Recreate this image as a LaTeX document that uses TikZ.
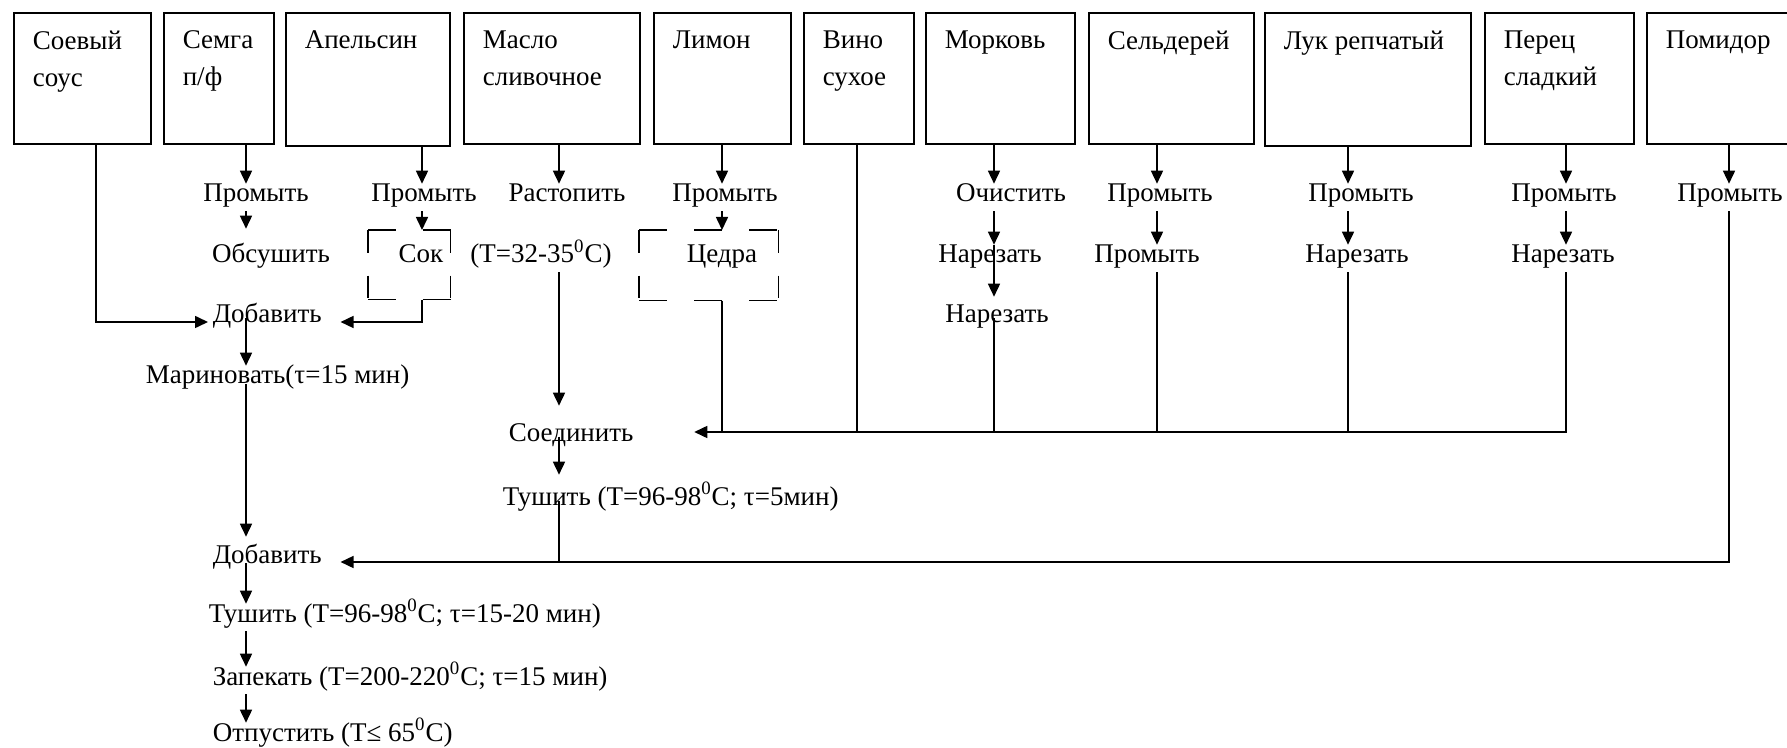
\documentclass[tikz,border=0pt]{standalone}
\usepackage{fontspec}
\setmainfont{Liberation Serif}
\usetikzlibrary{arrows.meta}

\begin{document}
\begin{tikzpicture}[x=0.5pt,y=-0.5pt,line width=0.8pt,
  every node/.style={inner sep=0pt,font=\fontsize{13.5}{18.5}\selectfont},
  ingr/.style={draw,line width=1pt,anchor=north west},
  ingrtxt/.style={anchor=north west,align=left},
  stp/.style={anchor=base,text height=8.75pt,text depth=4.25pt},
  arr/.style={-{Triangle[length=6.5pt,width=6pt]}},
  cutbox/.style={anchor=north west},
  cuth/.style={dash pattern=on 13.8pt off 13.8pt},
  cutv/.style={dash pattern=on 11.4pt off 11.4pt}]
  \fill[white] (0,0) rectangle (1787,748);
  \useasboundingbox (0,0) rectangle (1787,748);

  % columns and collecting lines
  \coordinate (kSoy) at (96,0);
  \coordinate (kSem) at (246,0);
  \coordinate (kApl) at (422,0);
  \coordinate (kMas) at (559,0);
  \coordinate (kLim) at (722,0);
  \coordinate (kVin) at (857,0);
  \coordinate (kMor) at (994,0);
  \coordinate (kSel) at (1157,0);
  \coordinate (kLuk) at (1348,0);
  \coordinate (kPer) at (1566,0);
  \coordinate (kPom) at (1729,0);
  \coordinate (rowA) at (0,322);
  \coordinate (rowB) at (0,432);
  \coordinate (rowC) at (0,562);

  % ingredients
  \foreach \nm/\l/\r/\b/\txt in {
      soevy/13/150/143/{Соевый\\соус},
      semga/163/273/143/{Семга\\п/ф},
      apelsin/285/449/145/{Апельсин},
      maslo/463/639/143/{Масло\\сливочное},
      limon/653/790/143/{Лимон},
      vino/803/913/143/{Вино\\сухое},
      morkov/925/1074/143/{Морковь},
      seldr/1088/1253/143/{Сельдерей},
      luk/1264/1470/145/{Лук репчатый},
      perec/1484/1633/143/{Перец\\сладкий},
      pomidor/1646/1792/143/{Помидор}}{
    \node[ingr,minimum width={(\r-\l)*0.5pt},minimum height={(\b-12)*0.5pt}] (\nm) at (\l,12) {};
    \node[ingrtxt] (\nm-t) at ([xshift=9.5pt,yshift=-9pt]\nm.north west) {\txt};
  }

  % first row
  \node[stp] (pSem) at (256,202) {Промыть};
  \node[stp] (pApl) at (424,202) {Промыть};
  \node[stp] (rast) at (567,202) {Растопить};
  \node[stp] (pLim) at (725,202) {Промыть};
  \node[stp] (ochMor) at (1011,202) {Очистить};
  \node[stp] (pSel) at (1160,202) {Промыть};
  \node[stp] (pLuk) at (1361,202) {Промыть};
  \node[stp] (pPer) at (1564,202) {Промыть};
  \node[stp] (pPom) at (1730,202) {Промыть};

  % second row
  \node[stp] (obsSem) at (271,263) {Обсушить};
  \node[stp] (sok) at (421,263) {Сок};
  \node[stp] (tRast) at (541,263) {(T=32-35\textsuperscript{0}C)};
  \node[stp] (cedra) at (722,263) {Цедра};
  \node[stp] (narMor) at (990,263) {Нарезать};
  \node[stp] (p2Sel) at (1147,263) {Промыть};
  \node[stp] (narLuk) at (1357,263) {Нарезать};
  \node[stp] (narPer) at (1563,263) {Нарезать};

  % dashed frames
  \node[cutbox,minimum width=40.5pt,minimum height=34pt] (sokB) at (368,230) {};
  \node[cutbox,minimum width=69pt,minimum height=34.5pt] (cedB) at (639,230) {};
  \foreach \fr in {sokB,cedB}{
    \draw[cuth] (\fr.north west) -- (\fr.north east);
    \draw[cuth] (\fr.south west) -- (\fr.south east);
    \draw[cutv] (\fr.north west) -- (\fr.south west);
    \draw[cutv] (\fr.north east) -- (\fr.south east);
  }

  % third row and below
  \node[stp,anchor=base west] (dob1) at (212,323) {Добавить};
  \node[stp] (nar2Mor) at (997,323) {Нарезать};
  \node[stp,anchor=base west] (mar) at (145,384) {Мариновать(τ=15 мин)};
  \node[stp,anchor=base west] (soed) at (508,441) {Соединить};
  \node[stp,anchor=base west] (tush1) at (502,505) {Тушить (T=96-98\textsuperscript{0}C; τ=5мин)};
  \node[stp,anchor=base west] (dob2) at (212,563) {Добавить};
  \node[stp,anchor=base west] (tush2) at (208,622) {Тушить (T=96-98\textsuperscript{0}C; τ=15-20 мин)};
  \node[stp,anchor=base west] (zap) at (212,685) {Запекать (T=200-220\textsuperscript{0}C; τ=15 мин)};
  \node[stp,anchor=base west] (otp) at (212,741) {Отпустить (T≤ 65\textsuperscript{0}C)};

  % semga, soevy, apelsin
  \draw[arr] (semga.south -| kSem) -- (pSem.north -| kSem);
  \draw[arr,shorten >=8pt] (pSem.south -| kSem) -- (obsSem.north -| kSem);
  \draw[arr] (apelsin.south -| kApl) -- (pApl.north -| kApl);
  \draw[arr] (pApl.south -| kApl) -- (sokB.north -| kApl);
  \draw[arr,shorten >=2pt] (soevy.south -| kSoy) |- (dob1.west |- rowA);
  \draw[arr,shorten >=9pt] (sokB.south -| kApl) |- (dob1.east |- rowA);

  % maslo, limon, vino
  \draw[arr] (maslo.south -| kMas) -- (rast.north -| kMas);
  \draw[arr,shorten >=8.5pt] (tRast.south -| kMas) -- (soed.north -| kMas);
  \draw[arr] (limon.south -| kLim) -- (pLim.north -| kLim);
  \draw[arr] (pLim.south -| kLim) -- (cedB.north -| kLim);
  \draw (cedB.south -| kLim) -- (kLim |- rowB);
  \draw (vino.south -| kVin) -- (kVin |- rowB);

  % vegetables
  \draw[arr] (morkov.south -| kMor) -- (ochMor.north -| kMor);
  \draw[arr] (ochMor.south -| kMor) -- (narMor.north -| kMor);
  \draw[arr,shorten >=4pt] (narMor.north -| kMor) -- (nar2Mor.north -| kMor);
  \draw (nar2Mor.center -| kMor) -- (kMor |- rowB);
  \draw[arr] (seldr.south -| kSel) -- (pSel.north -| kSel);
  \draw[arr] (pSel.south -| kSel) -- (p2Sel.north -| kSel);
  \draw (p2Sel.south -| kSel) -- (kSel |- rowB);
  \draw[arr] (luk.south -| kLuk) -- (pLuk.north -| kLuk);
  \draw[arr] (pLuk.south -| kLuk) -- (narLuk.north -| kLuk);
  \draw (narLuk.south -| kLuk) -- (kLuk |- rowB);
  \draw[arr] (perec.south -| kPer) -- (pPer.north -| kPer);
  \draw[arr] (pPer.south -| kPer) -- (narPer.north -| kPer);
  \draw[arr,shorten >=30pt] (narPer.south -| kPer) |- (soed.east |- rowB);
  \draw[arr] (pomidor.south -| kPom) -- (pPom.north -| kPom);
  \draw[arr,shorten >=9pt] (pPom.south -| kPom) |- (dob2.east |- rowC);

  % main line
  \draw[arr,shorten >=6pt] (soed.center -| kMas) -- (tush1.north -| kMas);
  \draw (tush1.center -| kMas) -- (kMas |- rowC);
  \draw[arr] (dob1.center -| kSem) -- (mar.north -| kSem);
  \draw[arr,shorten >=4pt] (mar.base -| kSem) -- (dob2.north -| kSem);
  \draw[arr] (dob2.base -| kSem) -- (tush2.north -| kSem);
  \draw[arr] (tush2.south -| kSem) -- (zap.north -| kSem);
  \draw[arr] (zap.south -| kSem) -- (otp.north -| kSem);
\end{tikzpicture}
\end{document}
